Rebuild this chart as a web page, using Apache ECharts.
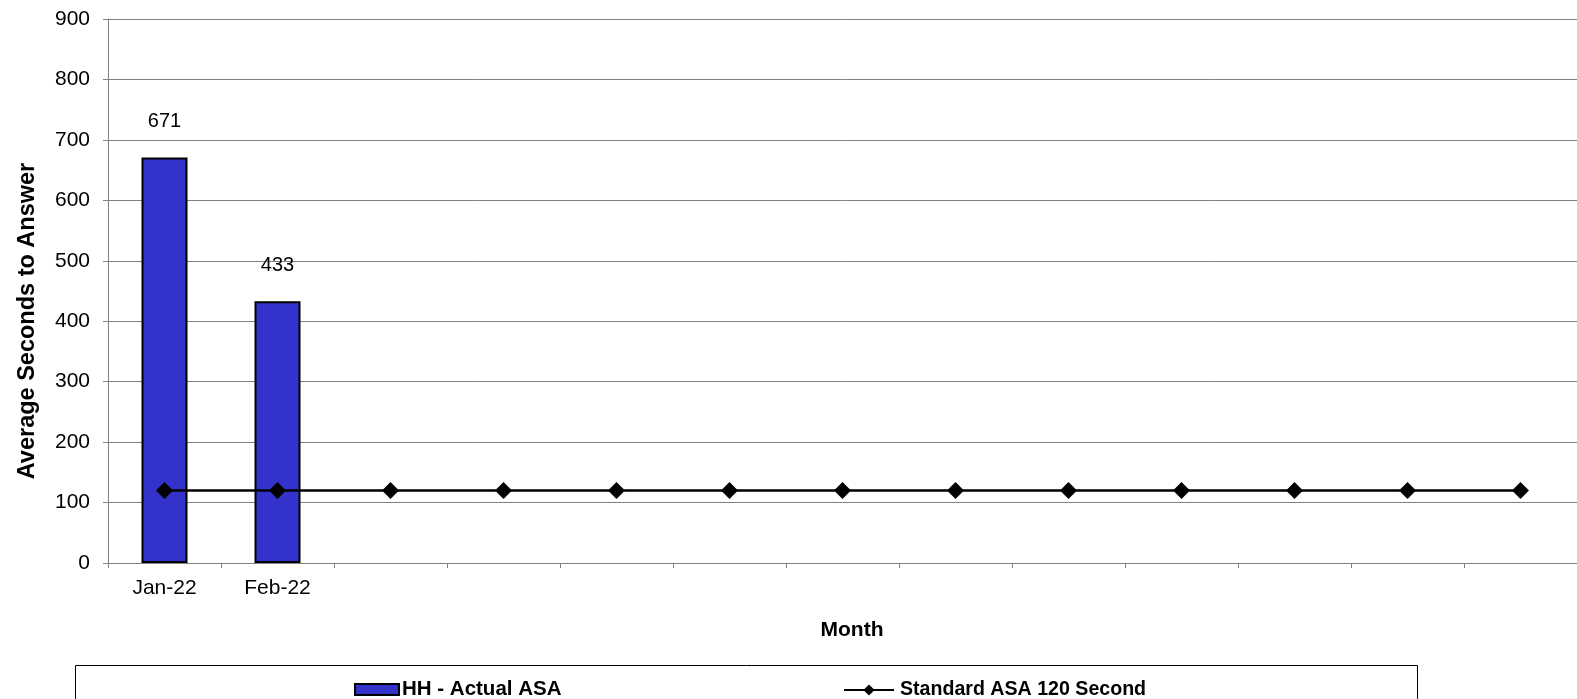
<!DOCTYPE html>
<html>
<head>
<meta charset="utf-8">
<script src="https://cdn.jsdelivr.net/npm/echarts@6/dist/echarts.min.js"></script>
<style>
html,body{margin:0;padding:0;background:#fff;}
#chart{width:1577px;height:699px;}
</style>
</head>
<body>
<div id="chart"></div>
<script>
const categories = ['Jan-22','Feb-22','','','','','','','','','','',''];
const actualASA = [671, 433, null, null, null, null, null, null, null, null, null, null, null];
const standardASA = [120,120,120,120,120,120,120,120,120,120,120,120,120];
const yMin = 0, yMax = 900, yInterval = 100;
const FONT = '"Liberation Sans", Arial, sans-serif';

const chart = echarts.init(document.getElementById('chart'), null, {renderer:'canvas'});
chart.setOption({
  animation: false,
  backgroundColor: '#ffffff',
  textStyle: {fontFamily: FONT},
  grid: {left: 108, right: 0, top: 19, bottom: 136, containLabel: false},
  legend: [
    {data: [{name: 'HH - Actual ASA', icon: 'rect'}], left: 354, top: 679, padding: 0,
     itemWidth: 44, itemHeight: 11, itemGap: 6,
     textStyle: {fontFamily: FONT, fontWeight: 'bold', fontSize: 20.5, color: '#000', padding: [0,0,0,-2]}},
    {data: ['Standard ASA 120 Second'], left: 843, top: 680, padding: 0,
     itemWidth: 50, itemHeight: 14, itemGap: 6,
     textStyle: {fontFamily: FONT, fontWeight: 'bold', fontSize: 19.6, color: '#000', padding: [0,0,0,1]}}
  ],
  xAxis: {
    type: 'category', data: categories, boundaryGap: true,
    axisLine: {show: true, lineStyle: {color: '#808080', width: 1}},
    axisTick: {show: true, length: 5, alignWithLabel: false, lineStyle: {color: '#808080'}},
    axisLabel: {fontFamily: FONT, fontSize: 21, color: '#000', margin: 15, interval: 0},
    splitLine: {show: false}
  },
  yAxis: {
    type: 'value', min: yMin, max: yMax, interval: yInterval,
    axisLine: {show: true, lineStyle: {color: '#808080', width: 1}},
    axisTick: {show: true, length: 5, lineStyle: {color: '#808080'}},
    axisLabel: {fontFamily: FONT, fontSize: 21, color: '#000', margin: 18},
    splitLine: {show: true, lineStyle: {color: '#808080', width: 1}}
  },
  graphic: [
    {type: 'rect', shape: {x: 75.5, y: 665.5, width: 1342, height: 60},
     style: {fill: 'none', stroke: '#000', lineWidth: 1}, z: -1},
    {type: 'text', x: 28, y: 321, rotation: Math.PI/2,
     style: {text: 'Average Seconds to Answer', fontFamily: FONT, fontWeight: 'bold', fontSize: 23.5,
             fill: '#000', align: 'center', verticalAlign: 'middle'}},
    {type: 'text', x: 852, y: 630,
     style: {text: 'Month', fontFamily: FONT, fontWeight: 'bold', fontSize: 21,
             fill: '#000', align: 'center', verticalAlign: 'middle'}}
  ],
  series: [
    {name: 'HH - Actual ASA', type: 'bar', data: actualASA, barWidth: 46,
     itemStyle: {color: '#3333CC', borderColor: '#000', borderWidth: 2},
     label: {show: true, position: 'top', distance: 26, fontFamily: FONT, fontSize: 20, color: '#000'},
     z: 2},
    {name: 'Standard ASA 120 Second', type: 'line', data: standardASA,
     symbol: 'diamond', symbolSize: 17, showSymbol: true,
     lineStyle: {color: '#000', width: 2.5}, itemStyle: {color: '#000'},
     z: 3}
  ]
});
</script>
</body>
</html>
